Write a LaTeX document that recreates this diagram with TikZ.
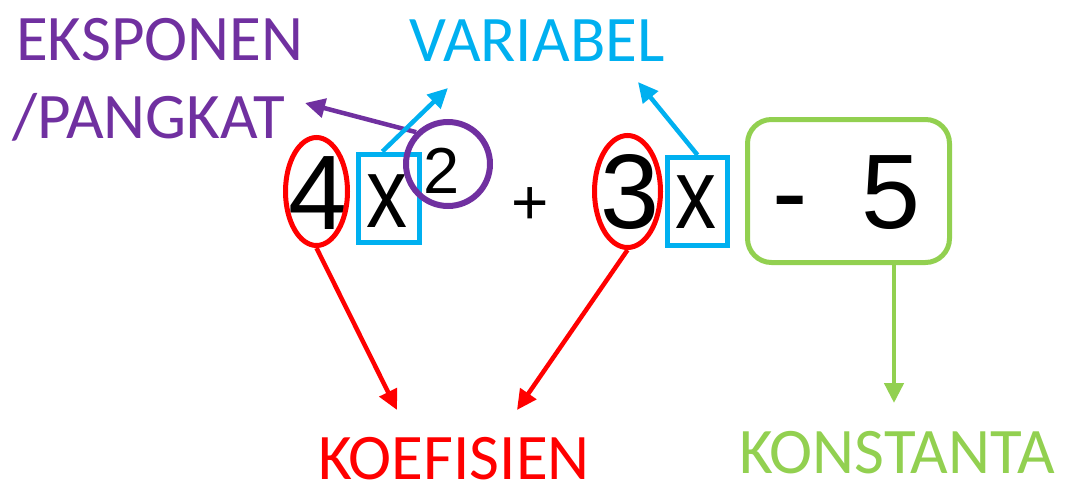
\documentclass[tikz,border=0pt]{standalone}
\usepackage{fontspec}
\setmainfont{Carlito}
\newfontfamily\arialf{Liberation Sans}
\usetikzlibrary{shapes.geometric,arrows.meta,calc}
\definecolor{cpurple}{HTML}{7030A0}
\definecolor{cblue}{HTML}{00B0F0}
\definecolor{cred}{HTML}{FF0000}
\definecolor{cgreen}{HTML}{92D050}
\begin{document}
\begin{tikzpicture}[x=1pt,y=-1pt,
  lbl/.style={anchor=base west,inner sep=0pt,text depth=0pt,font=\fontsize{65}{70}\selectfont},
  big/.style={anchor=base west,inner sep=0pt,font=\arialf\fontsize{106}{110}\selectfont},
  varx/.style={anchor=base west,inner sep=0pt,font=\arialf\fontsize{100}{110}\selectfont},
  oval/.style={ellipse,draw=cred,line width=5pt,inner sep=0pt},
  vbox/.style={rectangle,draw=cblue,line width=5pt,inner sep=0pt},
  arr/.style={line width=4.5pt,-{Triangle[length=20pt,width=19pt]}},
]
\useasboundingbox (0,0) rectangle (1068,487);
% labels
\node[lbl,text=cpurple] (eks) at (16,60) {EKSPONEN};
\node[lbl,text=cpurple] (pang) at (12,138) {/PANGKAT};
\node[lbl,text=cblue] (var) at (409,62) {VARIABEL};
\node[lbl,text=cred] (koef) at (318,479) {KOEFISIEN};
\node[lbl,text=cgreen] (kons) at (739,473) {KONSTANTA};
% expression
\node[big] (four) at (288,229) {4};
\node[varx] (xa) at (366,227) {\scalebox{0.82}[1]{x}};
\node[anchor=base west,inner sep=0pt,font=\arialf\fontsize{65}{70}\selectfont] (two) at (423,193) {2};
\node[anchor=base west,inner sep=0pt,font=\arialf\fontsize{64}{70}\selectfont] (plus) at (511,224) {+};
\node[big] (three) at (600,228) {3};
\node[varx] (xb) at (675,228) {\scalebox{0.82}[1]{x}};
\node[big] (minus) at (772,228) {-};
\node[big] (five) at (861,228) {5};
% shapes
\node[oval,minimum width=62pt,minimum height=108pt] (e1) at (316.5,191.5) {};
\node[oval,minimum width=66pt,minimum height=112pt] (e2) at (627.5,191.5) {};
\node[vbox,minimum width=61pt,minimum height=88pt] (b1) at (389,198) {};
\node[vbox,minimum width=60pt,minimum height=88pt] (b2) at (697.5,201.5) {};
\node[circle,draw=cpurple,line width=6pt,inner sep=0pt,minimum size=84pt] (c) at (448,164) {};
\node[rectangle,rounded corners=24pt,draw=cgreen,line width=5pt,inner sep=0pt,minimum width=202pt,minimum height=143pt] (g) at (848.5,191) {};
% arrow ends
\coordinate (tEks) at (305,103);
\coordinate (tVar1) at (448,88);
\coordinate (tVar2) at (638,82);
\coordinate (tK1) at (397,410);
\coordinate (tK2) at (517,410);
\coordinate (tKons) at (894,403);
% connectors
\draw[arr,cpurple] (c.135) -- (tEks);
\draw[arr,cblue] ($(b1.north west)!0.4!(b1.north east)$) -- (tVar1);
\draw[arr,cblue] (b2.north) -- (tVar2);
\draw[arr,cred] (e1.south) -- (tK1);
\draw[arr,cred] (e2.south) -- (tK2);
\draw[arr,cgreen] (g.south -| tKons) -- (tKons);
\end{tikzpicture}
\end{document}
